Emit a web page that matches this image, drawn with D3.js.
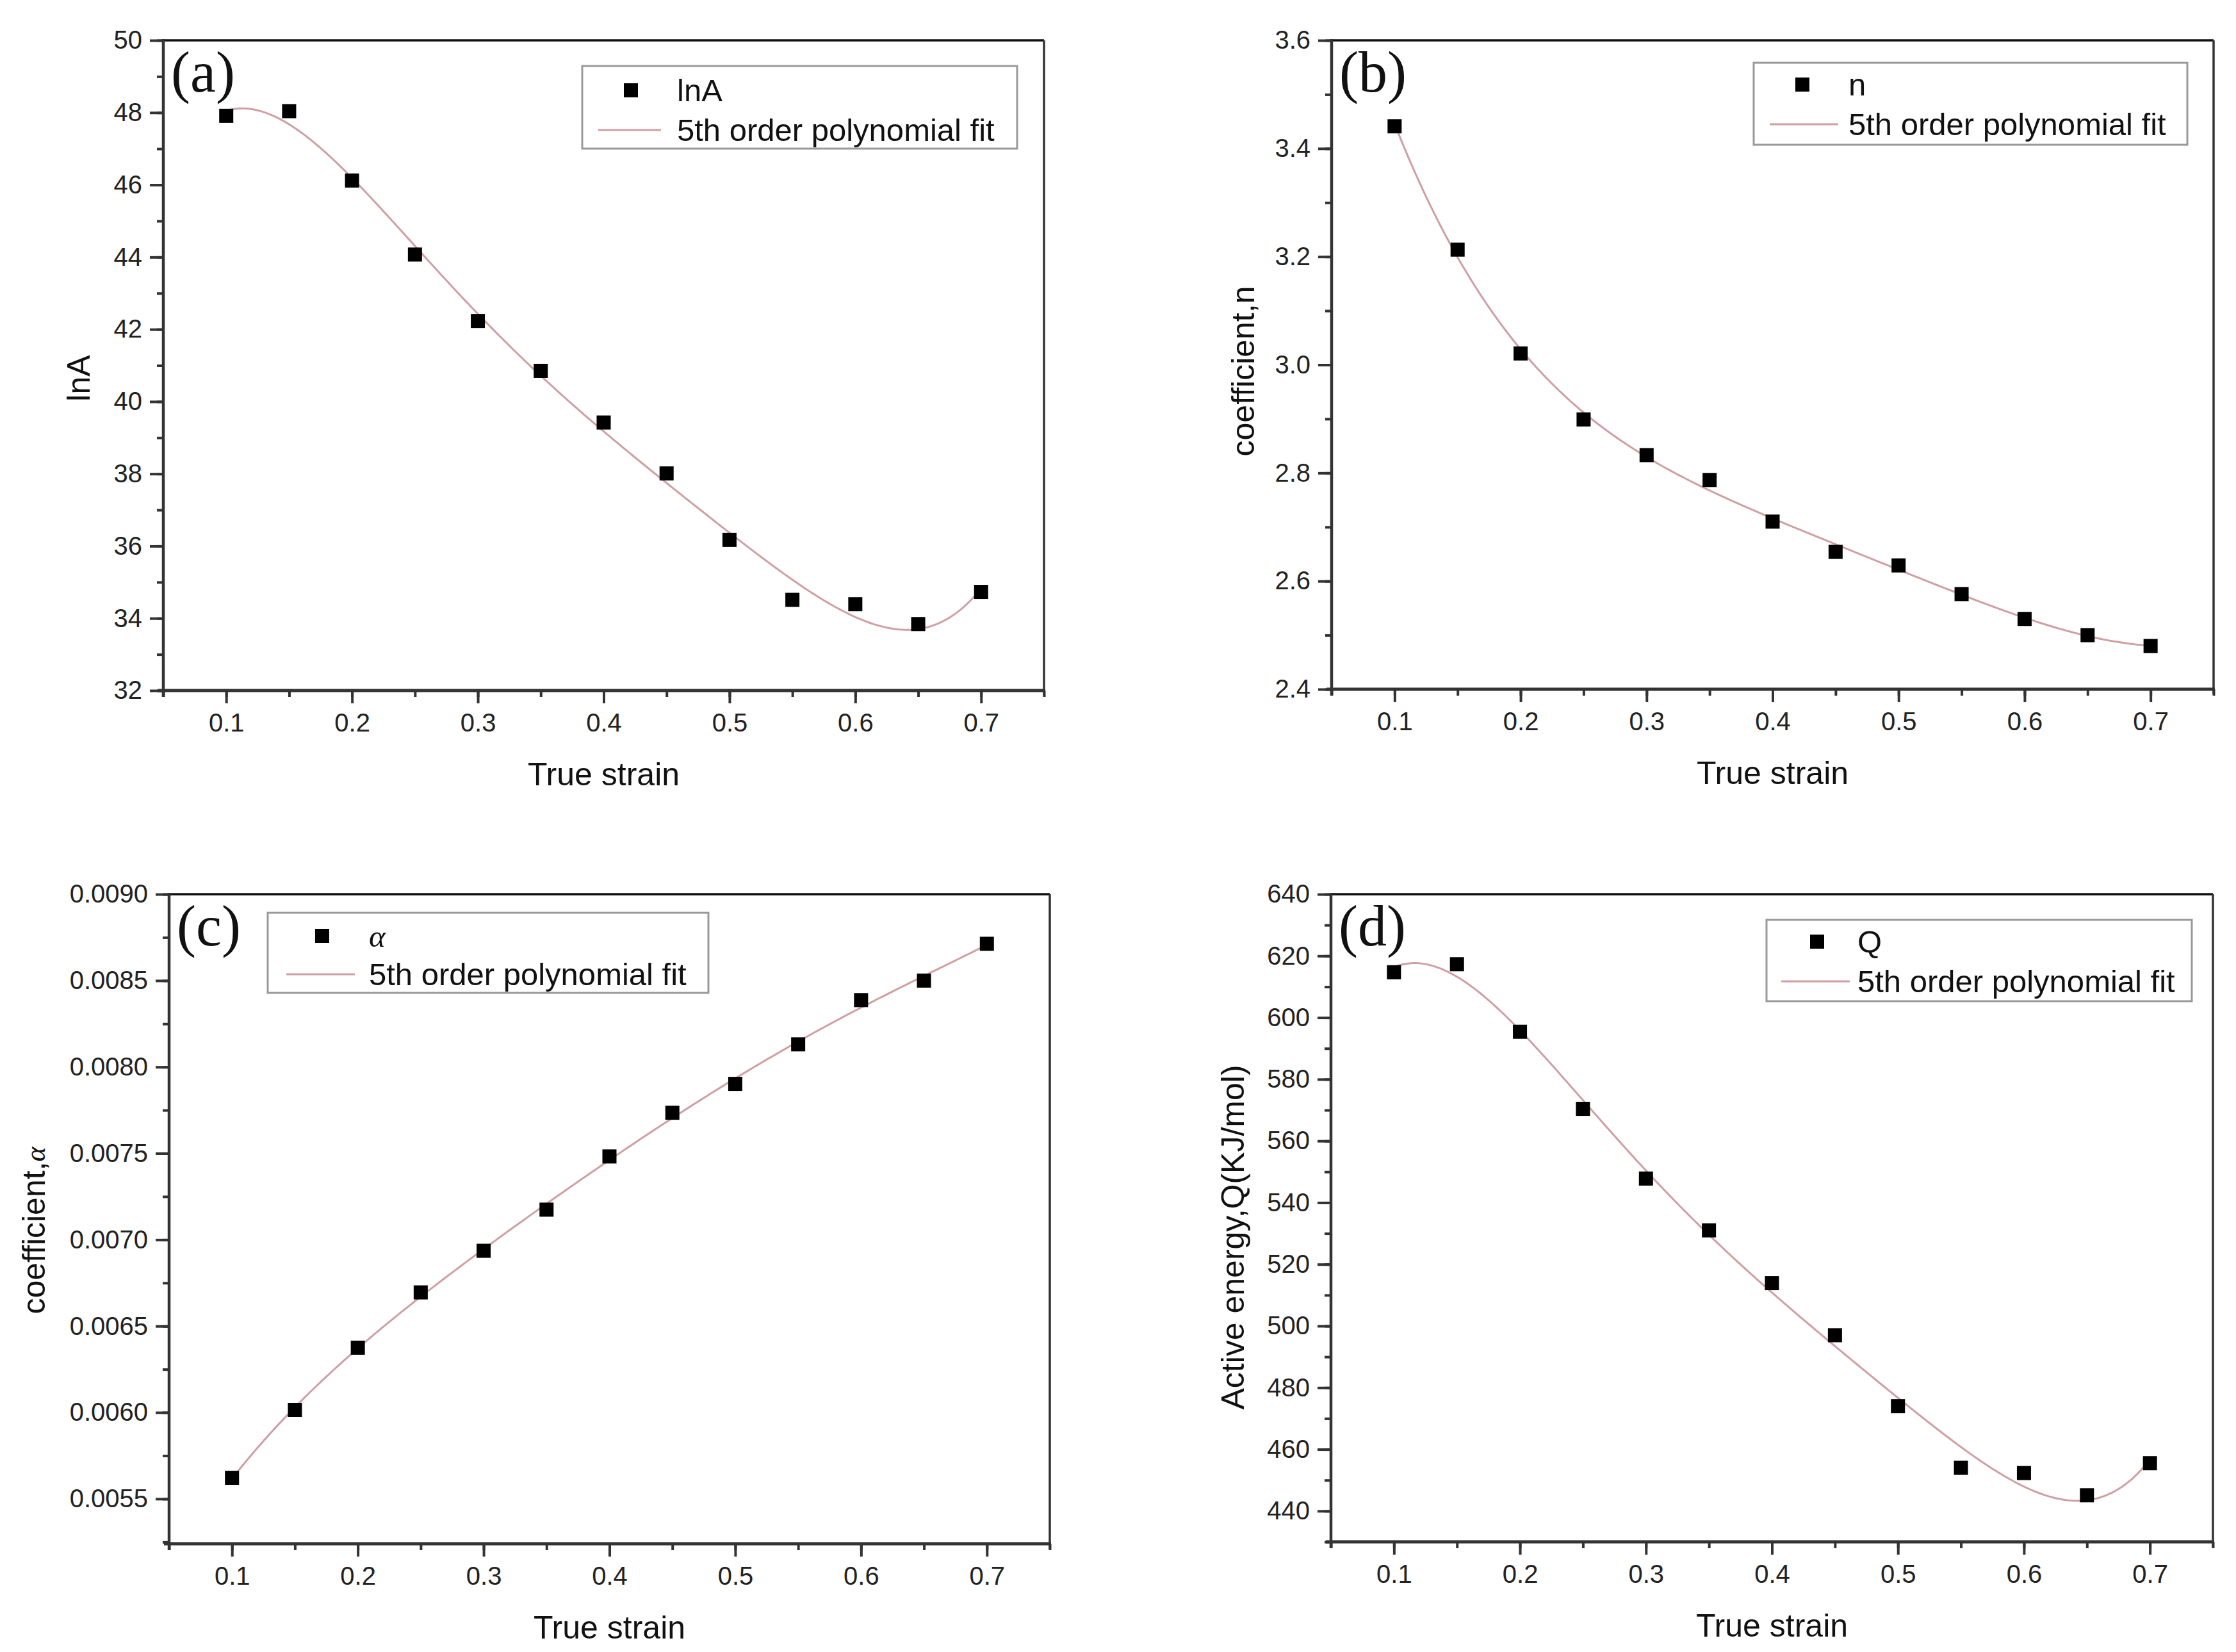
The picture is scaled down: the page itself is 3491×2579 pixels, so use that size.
<!DOCTYPE html>
<html>
<head>
<meta charset="utf-8">
<script src="https://cdn.jsdelivr.net/npm/d3@7"></script>
<style>
  body { margin: 0; background: #fff; }
  svg { display: block; }
</style>
</head>
<body>
<script>
// true strain, same for all four panels
const strain = [0.1, 0.15, 0.2, 0.25, 0.3, 0.35, 0.4, 0.45, 0.5, 0.55, 0.6, 0.65, 0.7];

// material constants
const lnA = [47.91, 48.04, 46.12, 44.07, 42.23, 40.85, 39.42, 38.01, 36.17, 34.51, 34.39, 33.84, 34.73];
const nCoef = [3.441, 3.213, 3.021, 2.899, 2.833, 2.787, 2.710, 2.654, 2.629, 2.576, 2.530, 2.500, 2.480];
const alpha = [0.005622, 0.006015, 0.006375, 0.006695, 0.006936, 0.007174, 0.007482, 0.007735, 0.007902, 0.008131, 0.008387, 0.008500, 0.008713];
const Q = [614.7, 617.3, 595.4, 570.4, 547.8, 531.0, 513.9, 497.0, 474.0, 454.0, 452.3, 445.1, 455.5];

// tick labels
const xTicks = [0.1, 0.2, 0.3, 0.4, 0.5, 0.6, 0.7];
const yTicksA = [32, 34, 36, 38, 40, 42, 44, 46, 48, 50];
const yTicksB = [2.4, 2.6, 2.8, 3.0, 3.2, 3.4, 3.6];
const yTicksC = [0.0055, 0.0060, 0.0065, 0.0070, 0.0075, 0.0080, 0.0085, 0.0090];
const yTicksD = [440, 460, 480, 500, 520, 540, 560, 580, 600, 620, 640];

const W = 3491, H = 2579;
const svg = d3.select('body').append('svg')
    .attr('width', W)
    .attr('height', H);

// least squares polynomial (the "5th order polynomial fit")
function polyfit(xs, ys, deg) {
    const n = deg + 1;
    const t = xs.map(x => (x - 0.4) / 0.3);
    const A = [];
    for (let i = 0; i < n; i++) {
        A.push([]);
        for (let j = 0; j <= n; j++) A[i].push(0);
    }
    t.forEach((ti, k) => {
        for (let i = 0; i < n; i++) {
            for (let j = 0; j < n; j++) A[i][j] += Math.pow(ti, i + j);
            A[i][n] += ys[k] * Math.pow(ti, i);
        }
    });
    for (let c = 0; c < n; c++) {
        let p = c;
        for (let r = c + 1; r < n; r++) if (Math.abs(A[r][c]) > Math.abs(A[p][c])) p = r;
        [A[c], A[p]] = [A[p], A[c]];
        for (let r = 0; r < n; r++) {
            if (r === c) continue;
            const f = A[r][c] / A[c][c];
            for (let j = c; j <= n; j++) A[r][j] -= f * A[c][j];
        }
    }
    const coef = A.map((row, i) => row[n] / row[i]);
    return x => {
        const tt = (x - 0.4) / 0.3;
        return coef.reduce((s, c, i) => s + c * Math.pow(tt, i), 0);
    };
}

const panels = [
    {id: 'a', values: lnA, box: {l: 255, r: 1630, t: 63, b: 1078}, ydom: [32, 50], ticks: yTicksA, minor: 1, fmt: d3.format('d'),
     ytitle: [{text: 'lnA'}], ytx: 122, yoff: 20,
     leg: {l: 909, r: 1588, t: 103, b: 232, r1: 141, r2: 203, mx: 985, lx0: 934, lx1: 1032, tx: 1057}, name: [{text: 'lnA'}]},
    {id: 'b', values: nCoef, box: {l: 2079, r: 3456, t: 63, b: 1076}, ydom: [2.4, 3.6], ticks: yTicksB, minor: 0.1, fmt: d3.format('.1f'),
     ytitle: [{text: 'coefficient,n'}], ytx: 1940, yoff: 10,
     leg: {l: 2738, r: 3415, t: 98, b: 226, r1: 132, r2: 194, mx: 2814, lx0: 2763, lx1: 2870, tx: 2886}, name: [{text: 'n'}]},
    {id: 'c', values: alpha, box: {l: 264, r: 1639, t: 1396, b: 2410}, ydom: [0.00524, 0.009], ticks: yTicksC, minor: 0.00025, fmt: d3.format('.4f'),
     ytitle: [{text: 'coefficient,'}, {text: 'α', serif: true}], ytx: 52, yoff: 18,
     leg: {l: 418, r: 1106, t: 1425, b: 1550, r1: 1461, r2: 1521, mx: 503, lx0: 447, lx1: 554, tx: 576}, name: [{text: 'α', serif: true}]},
    {id: 'd', values: Q, box: {l: 2078, r: 3455, t: 1396, b: 2407}, ydom: [430, 640], ticks: yTicksD, minor: 10, fmt: d3.format('d'),
     ytitle: [{text: 'Active energy,Q(KJ/mol)'}], ytx: 1924, yoff: 30,
     leg: {l: 2758, r: 3422, t: 1436, b: 1563, r1: 1470, r2: 1532, mx: 2837, lx0: 2781, lx1: 2888, tx: 2900}, name: [{text: 'Q'}]}
];

const SANS = "'Liberation Sans', Arial, sans-serif";
const SERIF = "'Liberation Serif', 'Times New Roman', serif";
const fitColor = '#cf9fa3';

panels.forEach(p => {
    const b = p.box;
    const x = d3.scaleLinear().domain([0.05, 0.75]).range([b.l, b.r]);
    const y = d3.scaleLinear().domain(p.ydom).range([b.b, b.t]);
    const g = svg.append('g');

    // minor ticks
    const yMinor = d3.range(Math.ceil(p.ydom[0] / p.minor - 1e-6), Math.floor(p.ydom[1] / p.minor + 1e-6) + 1)
        .map(k => k * p.minor);
    g.append('g')
        .attr('transform', `translate(${b.l},0)`)
        .call(d3.axisLeft(y).tickValues(yMinor).tickSize(10).tickSizeOuter(0).tickFormat(''))
        .call(s => s.select('.domain').remove())
        .selectAll('line').attr('stroke', '#333').attr('stroke-width', 4);
    g.append('g')
        .attr('transform', `translate(0,${b.b})`)
        .call(d3.axisBottom(x).tickValues(d3.range(1, 16).map(k => k * 0.05)).tickSize(10).tickSizeOuter(0).tickFormat(''))
        .call(s => s.select('.domain').remove())
        .selectAll('line').attr('stroke', '#333').attr('stroke-width', 4);

    // major ticks
    const ya = g.append('g')
        .attr('transform', `translate(${b.l},0)`)
        .call(d3.axisLeft(y).tickValues(p.ticks).tickSize(21).tickPadding(12).tickSizeOuter(0).tickFormat(p.fmt))
        .call(s => s.select('.domain').remove());
    ya.selectAll('line').attr('stroke', '#333').attr('stroke-width', 4);
    ya.selectAll('text').attr('font-family', SANS).attr('font-size', 40).attr('fill', '#222');

    const xa = g.append('g')
        .attr('transform', `translate(0,${b.b})`)
        .call(d3.axisBottom(x).tickValues(xTicks).tickSize(20).tickPadding(16).tickSizeOuter(0).tickFormat(d3.format('.1f')))
        .call(s => s.select('.domain').remove());
    xa.selectAll('line').attr('stroke', '#333').attr('stroke-width', 4);
    xa.selectAll('text').attr('font-family', SANS).attr('font-size', 40).attr('fill', '#222');

    // frame
    g.append('line').attr('x1', b.l).attr('x2', b.r).attr('y1', b.t).attr('y2', b.t)
        .attr('stroke', '#111').attr('stroke-width', 3.5);
    g.append('line').attr('x1', b.r).attr('x2', b.r).attr('y1', b.t).attr('y2', b.b + 8)
        .attr('stroke', '#333').attr('stroke-width', 3.5);
    g.append('line').attr('x1', b.l).attr('x2', b.l).attr('y1', b.t - 2).attr('y2', b.b + 10)
        .attr('stroke', '#333').attr('stroke-width', 4.5);
    g.append('line').attr('x1', b.l - 8).attr('x2', b.r + 2).attr('y1', b.b).attr('y2', b.b)
        .attr('stroke', '#333').attr('stroke-width', 5);

    // fit curve
    const f = polyfit(strain, p.values, 5);
    const fx = d3.range(0, 241).map(i => 0.1 + i * 0.0025);
    g.append('path')
        .datum(fx)
        .attr('fill', 'none')
        .attr('stroke', fitColor)
        .attr('stroke-width', 3)
        .attr('d', d3.line().x(d => x(d)).y(d => y(f(d))));

    // data markers
    const s = 22;
    g.selectAll('rect.pt')
        .data(strain.map((d, i) => ({x: d, y: p.values[i]})))
        .enter()
        .append('rect')
        .attr('class', 'pt')
        .attr('x', d => x(d.x) - s / 2)
        .attr('y', d => y(d.y) - s / 2)
        .attr('width', s)
        .attr('height', s)
        .attr('fill', '#000');

    // axis titles
    g.append('text')
        .attr('x', (b.l + b.r) / 2)
        .attr('y', b.b + 148)
        .attr('text-anchor', 'middle')
        .attr('font-family', SANS)
        .attr('font-size', 50)
        .attr('fill', '#111')
        .text('True strain');

    const yt = g.append('text')
        .attr('transform', `translate(${p.ytx},${(b.t + b.b) / 2 + p.yoff}) rotate(-90)`)
        .attr('text-anchor', 'middle')
        .attr('dy', '0.35em')
        .attr('font-family', SANS)
        .attr('font-size', 50)
        .attr('fill', '#111');
    p.ytitle.forEach(part => {
        const ts = yt.append('tspan').text(part.text);
        if (part.serif) ts.attr('font-family', SERIF).attr('font-style', 'italic').attr('font-size', 44);
    });

    // panel letter
    g.append('text')
        .attr('x', b.l + 12)
        .attr('y', b.t + 80)
        .attr('font-family', SERIF)
        .attr('font-size', 90)
        .attr('fill', '#111')
        .text(`(${p.id})`);

    // legend
    const L = p.leg;
    g.append('rect')
        .attr('x', L.l).attr('y', L.t)
        .attr('width', L.r - L.l).attr('height', L.b - L.t)
        .attr('fill', '#fff')
        .attr('stroke', '#999')
        .attr('stroke-width', 3);
    g.append('rect')
        .attr('x', L.mx - 11).attr('y', L.r1 - 11)
        .attr('width', 22).attr('height', 22)
        .attr('fill', '#000');
    g.append('line')
        .attr('x1', L.lx0).attr('x2', L.lx1)
        .attr('y1', L.r2).attr('y2', L.r2)
        .attr('stroke', fitColor).attr('stroke-width', 3);
    const n1 = g.append('text')
        .attr('x', L.tx).attr('y', L.r1)
        .attr('dy', '0.35em')
        .attr('font-family', SANS)
        .attr('font-size', 49)
        .attr('fill', '#111');
    p.name.forEach(part => {
        const ts = n1.append('tspan').text(part.text);
        if (part.serif) ts.attr('font-family', SERIF).attr('font-style', 'italic');
    });
    g.append('text')
        .attr('x', L.tx).attr('y', L.r2)
        .attr('dy', '0.35em')
        .attr('font-family', SANS)
        .attr('font-size', 49)
        .attr('fill', '#111')
        .text('5th order polynomial fit');
});
</script>
</body>
</html>
